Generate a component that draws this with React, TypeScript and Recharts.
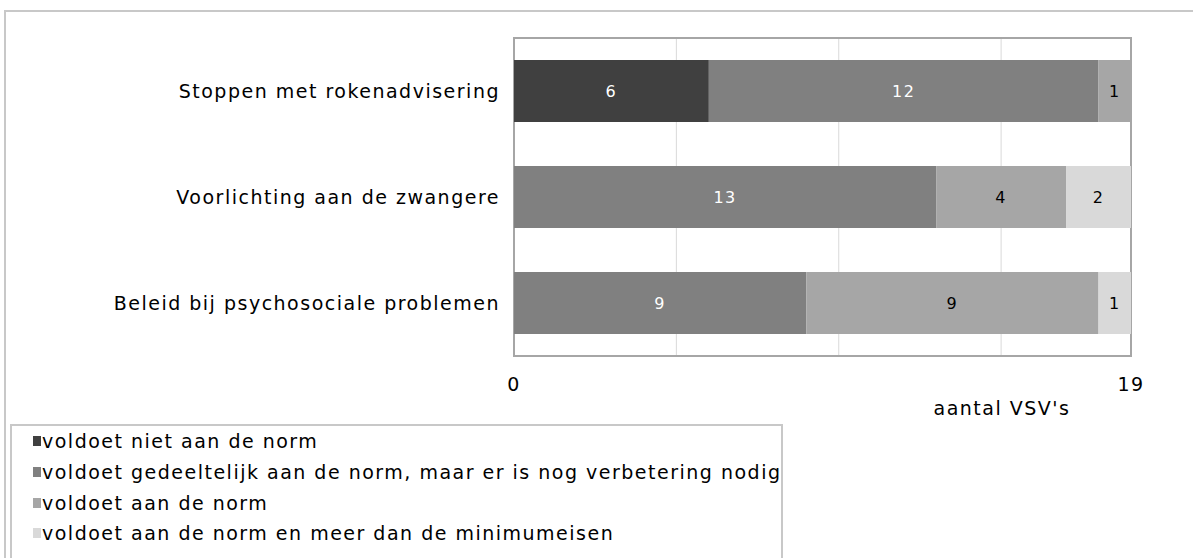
import React from 'react';
import {
  BarChart,
  Bar,
  XAxis,
  YAxis,
  CartesianGrid,
  LabelList,
  Legend,
  ReferenceArea,
} from 'recharts';

const categories = [
  'Stoppen met rokenadvisering',
  'Voorlichting aan de zwangere',
  'Beleid bij psychosociale problemen',
];
const nietNorm = [6, 0, 0];
const gedeeltelijk = [12, 13, 9];
const aanNorm = [1, 4, 9];
const meerDanMinimum = [0, 2, 1];

const seriesNames = [
  'voldoet niet aan de norm',
  'voldoet gedeeltelijk aan de norm, maar er is nog verbetering nodig',
  'voldoet aan de norm',
  'voldoet aan de norm en meer dan de minimumeisen',
];
const seriesColors = ['#404040', '#808080', '#a6a6a6', '#d9d9d9'];
const labelColors = ['#ffffff', '#ffffff', '#000000', '#000000'];
const xTicks = [0, 5, 10, 15, 19];
const shownTicks = [0, 19];

const data = categories.map((name, i) => ({
  name,
  s0: nietNorm[i],
  s1: gedeeltelijk[i],
  s2: aanNorm[i],
  s3: meerDanMinimum[i],
}));

const FONT = 'DejaVu Sans, Verdana, sans-serif';
const FS = 19;
const LS = 1.5;

const renderXTick = ({ x, y, payload }: any) => {
  if (!shownTicks.includes(payload.value)) return null;
  return (
    <text x={x} y={y + 27} textAnchor="middle" fontSize={FS} letterSpacing={LS} fontFamily={FONT} fill="#000">
      {payload.value}
    </text>
  );
};

const renderYTick = ({ x, y, payload }: any) => (
  <text x={514 - 14} y={y + 7} textAnchor="end" fontSize={FS} letterSpacing={LS} fontFamily={FONT} fill="#000">
    {payload.value}
  </text>
);

const renderAxisTitle = ({ viewBox }: any) => (
  <text
    x={viewBox.x + viewBox.width - 129}
    y={viewBox.y + 59}
    textAnchor="middle"
    fontSize={FS}
    letterSpacing={LS}
    fontFamily={FONT}
    fill="#000"
  >
    aantal VSV's
  </text>
);

const renderLegend = () => (
  <div
    style={{
      border: '2px solid #c8c8c8',
      width: 773,
      height: 160,
      boxSizing: 'border-box',
      fontFamily: FONT,
      fontSize: FS,
      letterSpacing: LS,
      color: '#000',
      textAlign: 'left',
    }}
  >
    <div style={{ marginTop: 0 }}>
      {seriesNames.map((n, i) => (
        <div key={n} style={{ height: 30.7, display: 'flex', alignItems: 'center', paddingLeft: 21, whiteSpace: 'nowrap' }}>
          <span style={{ width: 8, height: 10, background: seriesColors[i], marginRight: 1, flex: 'none' }} />
          <span>{n}</span>
        </div>
      ))}
    </div>
  </div>
);

const hideZero = (v: any) => (v ? v : '');

const App: React.FC = () => {
  const keys = ['s0', 's1', 's2', 's3'];
  return (
    <div style={{ position: 'absolute', left: 0, top: 0, width: 1193, height: 558, overflow: 'hidden', background: '#fff' }}>
      <div
        style={{
          position: 'absolute',
          left: 4,
          top: 10,
          width: 1250,
          height: 600,
          border: '2px solid #c8c8c8',
        }}
      />
      <div style={{ position: 'absolute', left: 0, top: 0 }}>
        <BarChart
          width={1193}
          height={558}
          data={data}
          layout="vertical"
          margin={{ top: 38, right: 62, bottom: 152, left: 0 }}
          barSize={62}
        >
          <CartesianGrid horizontal={false} stroke="#d9d9d9" />
          <XAxis
            type="number"
            domain={[0, 19]}
            ticks={xTicks}
            interval={0}
            axisLine={false}
            tickLine={false}
            tick={renderXTick}
            height={50}
            label={renderAxisTitle}
          />
          <YAxis
            type="category"
            dataKey="name"
            width={514}
            axisLine={false}
            tickLine={false}
            tick={renderYTick}
          />
          {keys.map((k, i) => (
            <Bar key={k} dataKey={k} stackId="a" fill={seriesColors[i]} name={seriesNames[i]} isAnimationActive={false}>
              <LabelList
                dataKey={k}
                position="center"
                formatter={hideZero}
                fill={labelColors[i]}
                fontSize={16}
                letterSpacing={1.5}
                fontFamily={FONT}
              />
            </Bar>
          ))}
          <ReferenceArea x1={0} x2={19} fill="none" stroke="#a6a6a6" strokeWidth={2} />
          <Legend
            content={renderLegend}
            layout="horizontal"
            verticalAlign="middle"
            align="center"
            wrapperStyle={{ left: 10, top: 424, width: 773 }}
          />
        </BarChart>
      </div>
    </div>
  );
};

export default App;
